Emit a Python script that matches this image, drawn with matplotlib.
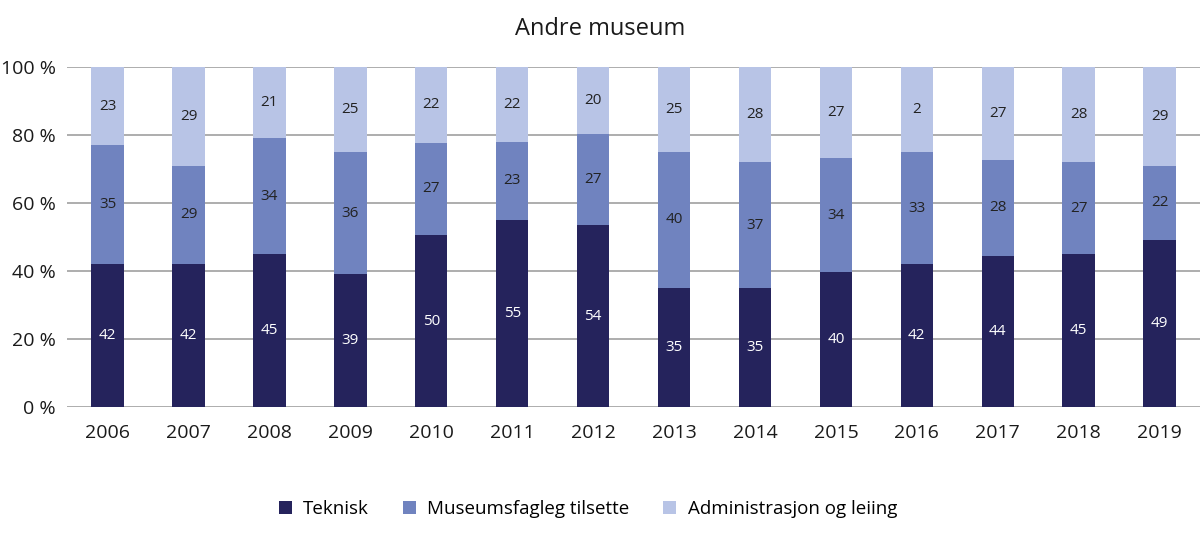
import numpy as np
import matplotlib
matplotlib.use('Agg')
import matplotlib.pyplot as plt

plt.rcParams['font.family'] = ['Open Sans', 'DejaVu Sans']

years = ['2006', '2007', '2008', '2009', '2010', '2011', '2012',
         '2013', '2014', '2015', '2016', '2017', '2018', '2019']
teknisk = [42, 42, 45, 39, 50, 55, 54, 35, 35, 40, 42, 44, 45, 49]
museum = [35, 29, 34, 36, 27, 23, 27, 40, 37, 34, 33, 28, 27, 22]
admin = [23, 29, 21, 25, 22, 22, 20, 25, 28, 27, 25, 27, 28, 29]
# label text as printed in the source (2016 shows "2")
admin_labels = ['23', '29', '21', '25', '22', '22', '20',
                '25', '28', '27', '2', '27', '28', '29']

names = ['Teknisk', 'Museumsfagleg tilsette', 'Administrasjon og leiing']
colors = ['#25235c', '#7083bf', '#b8c4e6']

t = np.array(teknisk, float)
m = np.array(museum, float)
a = np.array(admin, float)
tot = t + m + a
t_p, m_p, a_p = t / tot * 100, m / tot * 100, a / tot * 100

fig = plt.figure(figsize=(12, 5.36), dpi=100)
ax = fig.add_axes([0.056, 0.2407, 0.944, 0.6343])

x = np.arange(len(years))
w = 0.4
b1 = ax.bar(x, t_p, w, color=colors[0], label=names[0], zorder=3)
b2 = ax.bar(x, m_p, w, bottom=t_p, color=colors[1], label=names[1], zorder=3)
b3 = ax.bar(x, a_p, w, bottom=t_p + m_p, color=colors[2], label=names[2], zorder=3)

ax.bar_label(b1, labels=[str(v) for v in teknisk], label_type='center',
             color='white', fontsize=11)
ax.bar_label(b2, labels=[str(v) for v in museum], label_type='center',
             color='#222222', fontsize=11)
ax.bar_label(b3, labels=admin_labels, label_type='center',
             color='#222222', fontsize=11)

ax.set_xlim(-0.5, len(years) - 0.5)
ax.set_ylim(0, 100)
ax.set_yticks(np.arange(0, 101, 20))
ax.set_yticklabels(['{} %'.format(v) for v in range(0, 101, 20)])
ax.set_xticks(x)
ax.set_xticklabels(years)
ax.tick_params(axis='both', length=0, labelsize=14, colors='#1a1a1a')
ax.tick_params(axis='x', pad=12)
ax.tick_params(axis='y', pad=8)
ax.yaxis.grid(True, color='#a0a0a0', lw=1.2, zorder=0)
for s in ax.spines.values():
    s.set_visible(False)

fig.text(0.5, 0.945, 'Andre museum', ha='center', va='center',
         fontsize=17, color='#1a1a1a')

fig.legend(handles=[b1, b2, b3], labels=names, loc='center',
           bbox_to_anchor=(0.49, 0.05), ncol=3, frameon=False,
           fontsize=13.5, handlelength=0.7, handleheight=0.7,
           columnspacing=1.8, handletextpad=0.6)

plt.savefig('out.png', dpi=100)
